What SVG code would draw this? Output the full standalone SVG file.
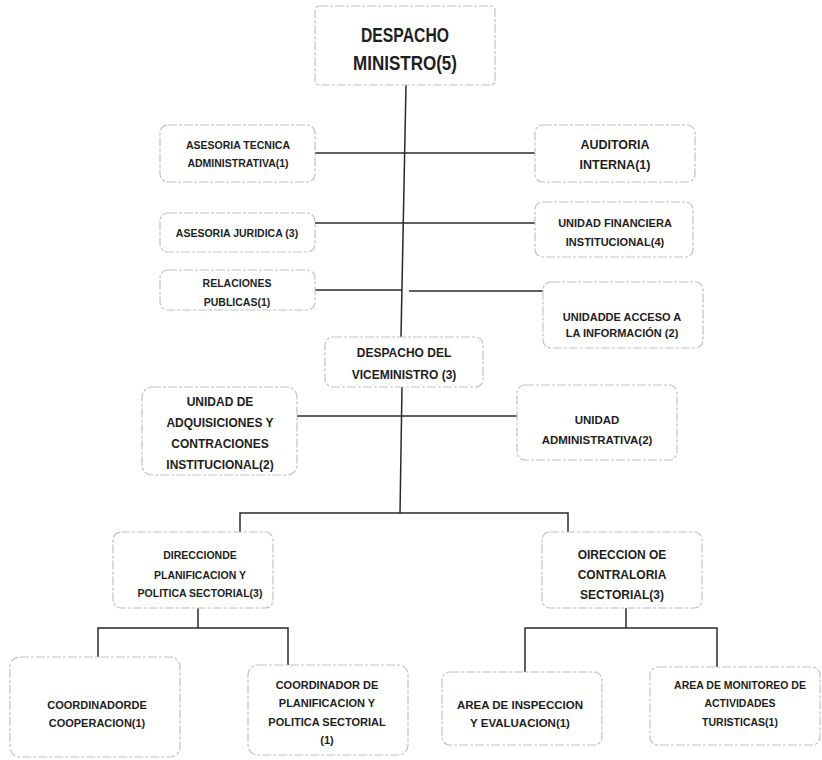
<svg xmlns="http://www.w3.org/2000/svg" width="822" height="760" viewBox="0 0 822 760">
<style>
.box{fill:#fff;stroke:#c2c2c2;stroke-width:1.2;stroke-dasharray:9 2 3 2}
.t{font-family:"Liberation Sans",Arial,sans-serif;font-weight:bold;fill:#1e1e1e;text-anchor:middle;font-size:11px}
.c{fill:none;stroke:#2a2a2a;stroke-width:1.5}
</style>
<rect width="822" height="760" fill="#fff"/>
<g id="connectors">
<path class="c" d="M406 85 L401 337"/>
<path class="c" d="M315 153 H535"/>
<path class="c" d="M315 223 H535"/>
<path class="c" d="M315 290 H402 M409 291 H543"/>
<path class="c" d="M402 387 L400 513"/>
<path class="c" d="M297 416 H517"/>
<path class="c" d="M240 532 V513 H568 V532"/>
<path class="c" d="M198 608 V628"/>
<path class="c" d="M98 657 V628 H288 V665"/>
<path class="c" d="M626 608 V628"/>
<path class="c" d="M525 672 V628 H717 V667"/>
</g>
<g id="despacho-ministro">
<rect class="box" x="315" y="6" width="180" height="79" rx="4"/>
<text class="t" x="405" y="42" style="font-size:20px" textLength="88" lengthAdjust="spacingAndGlyphs">DESPACHO</text>
<text class="t" x="405" y="70" style="font-size:20px" textLength="104" lengthAdjust="spacingAndGlyphs">MINISTRO(5)</text>
</g>
<g id="asesoria-tecnica">
<rect class="box" x="160" y="125" width="155" height="57" rx="8"/>
<text class="t" x="238" y="149" style="font-size:10.5px">ASESORIA TECNICA</text>
<text class="t" x="238" y="167" style="font-size:10.5px">ADMINISTRATIVA(1)</text>
</g>
<g id="auditoria-interna">
<rect class="box" x="535" y="125" width="160" height="57" rx="8"/>
<text class="t" x="615" y="149" style="font-size:12.5px">AUDITORIA</text>
<text class="t" x="615" y="169" style="font-size:12.5px">INTERNA(1)</text>
</g>
<g id="asesoria-juridica">
<rect class="box" x="160" y="213" width="155" height="39" rx="8"/>
<text class="t" x="237" y="237" style="font-size:10.5px">ASESORIA JURIDICA (3)</text>
</g>
<g id="unidad-financiera">
<rect class="box" x="535" y="202" width="158" height="55" rx="8"/>
<text class="t" x="615" y="227">UNIDAD FINANCIERA</text>
<text class="t" x="615" y="246">INSTITUCIONAL(4)</text>
</g>
<g id="relaciones-publicas">
<rect class="box" x="160" y="270" width="155" height="40" rx="8"/>
<text class="t" x="237" y="287" style="font-size:10.5px">RELACIONES</text>
<text class="t" x="237" y="306" style="font-size:10.5px">PUBLICAS(1)</text>
</g>
<g id="unidad-acceso">
<rect class="box" x="543" y="282" width="160" height="66" rx="8"/>
<text class="t" x="622" y="321">UNIDADDE ACCESO A</text>
<text class="t" x="622" y="337">LA INFORMACIÓN (2)</text>
</g>
<g id="despacho-viceministro">
<rect class="box" x="325" y="337" width="158" height="50" rx="8"/>
<text class="t" x="404" y="357" style="font-size:12px">DESPACHO DEL</text>
<text class="t" x="404" y="379" style="font-size:12px">VICEMINISTRO (3)</text>
</g>
<g id="unidad-adquisiciones">
<rect class="box" x="142" y="387" width="155" height="88" rx="10"/>
<text class="t" x="220" y="406" style="font-size:12px">UNIDAD DE</text>
<text class="t" x="220" y="427" style="font-size:12px">ADQUISICIONES Y</text>
<text class="t" x="220" y="448" style="font-size:12px">CONTRACIONES</text>
<text class="t" x="220" y="469" style="font-size:12px">INSTITUCIONAL(2)</text>
</g>
<g id="unidad-administrativa">
<rect class="box" x="517" y="385" width="160" height="75" rx="8"/>
<text class="t" x="597" y="424" style="font-size:11.5px">UNIDAD</text>
<text class="t" x="597" y="444" style="font-size:11.5px">ADMINISTRATIVA(2)</text>
</g>
<g id="direccion-planificacion">
<rect class="box" x="113" y="532" width="160" height="76" rx="8"/>
<text class="t" x="200" y="559" style="font-size:10.5px">DIRECCIONDE</text>
<text class="t" x="200" y="579" style="font-size:10.5px">PLANIFICACION Y</text>
<text class="t" x="200" y="597" style="font-size:10.5px">POLITICA SECTORIAL(3)</text>
</g>
<g id="direccion-contraloria">
<rect class="box" x="542" y="532" width="160" height="76" rx="8"/>
<text class="t" x="622" y="559" style="font-size:12px">OIRECCION OE</text>
<text class="t" x="622" y="579" style="font-size:12px">CONTRALORIA</text>
<text class="t" x="622" y="599" style="font-size:12px">SECTORIAL(3)</text>
</g>
<g id="coordinador-cooperacion">
<rect class="box" x="10" y="657" width="170" height="100" rx="10"/>
<text class="t" x="97" y="709">COORDINADORDE</text>
<text class="t" x="97" y="727">COOPERACION(1)</text>
</g>
<g id="coordinador-planificacion">
<rect class="box" x="248" y="665" width="160" height="90" rx="10"/>
<text class="t" x="327" y="689">COORDINADOR DE</text>
<text class="t" x="327" y="707">PLANIFICACION Y</text>
<text class="t" x="327" y="726">POLITICA SECTORIAL</text>
<text class="t" x="327" y="744">(1)</text>
</g>
<g id="area-inspeccion">
<rect class="box" x="442" y="672" width="160" height="73" rx="8"/>
<text class="t" x="520" y="709" style="font-size:11.5px">AREA DE INSPECCION</text>
<text class="t" x="520" y="727" style="font-size:11.5px">Y EVALUACION(1)</text>
</g>
<g id="area-monitoreo">
<rect class="box" x="650" y="667" width="170" height="78" rx="8"/>
<text class="t" x="740" y="689" style="font-size:10.5px">AREA DE MONITOREO DE</text>
<text class="t" x="740" y="707" style="font-size:10.5px">ACTIVIDADES</text>
<text class="t" x="740" y="726" style="font-size:10.5px">TURISTICAS(1)</text>
</g>
</svg>
